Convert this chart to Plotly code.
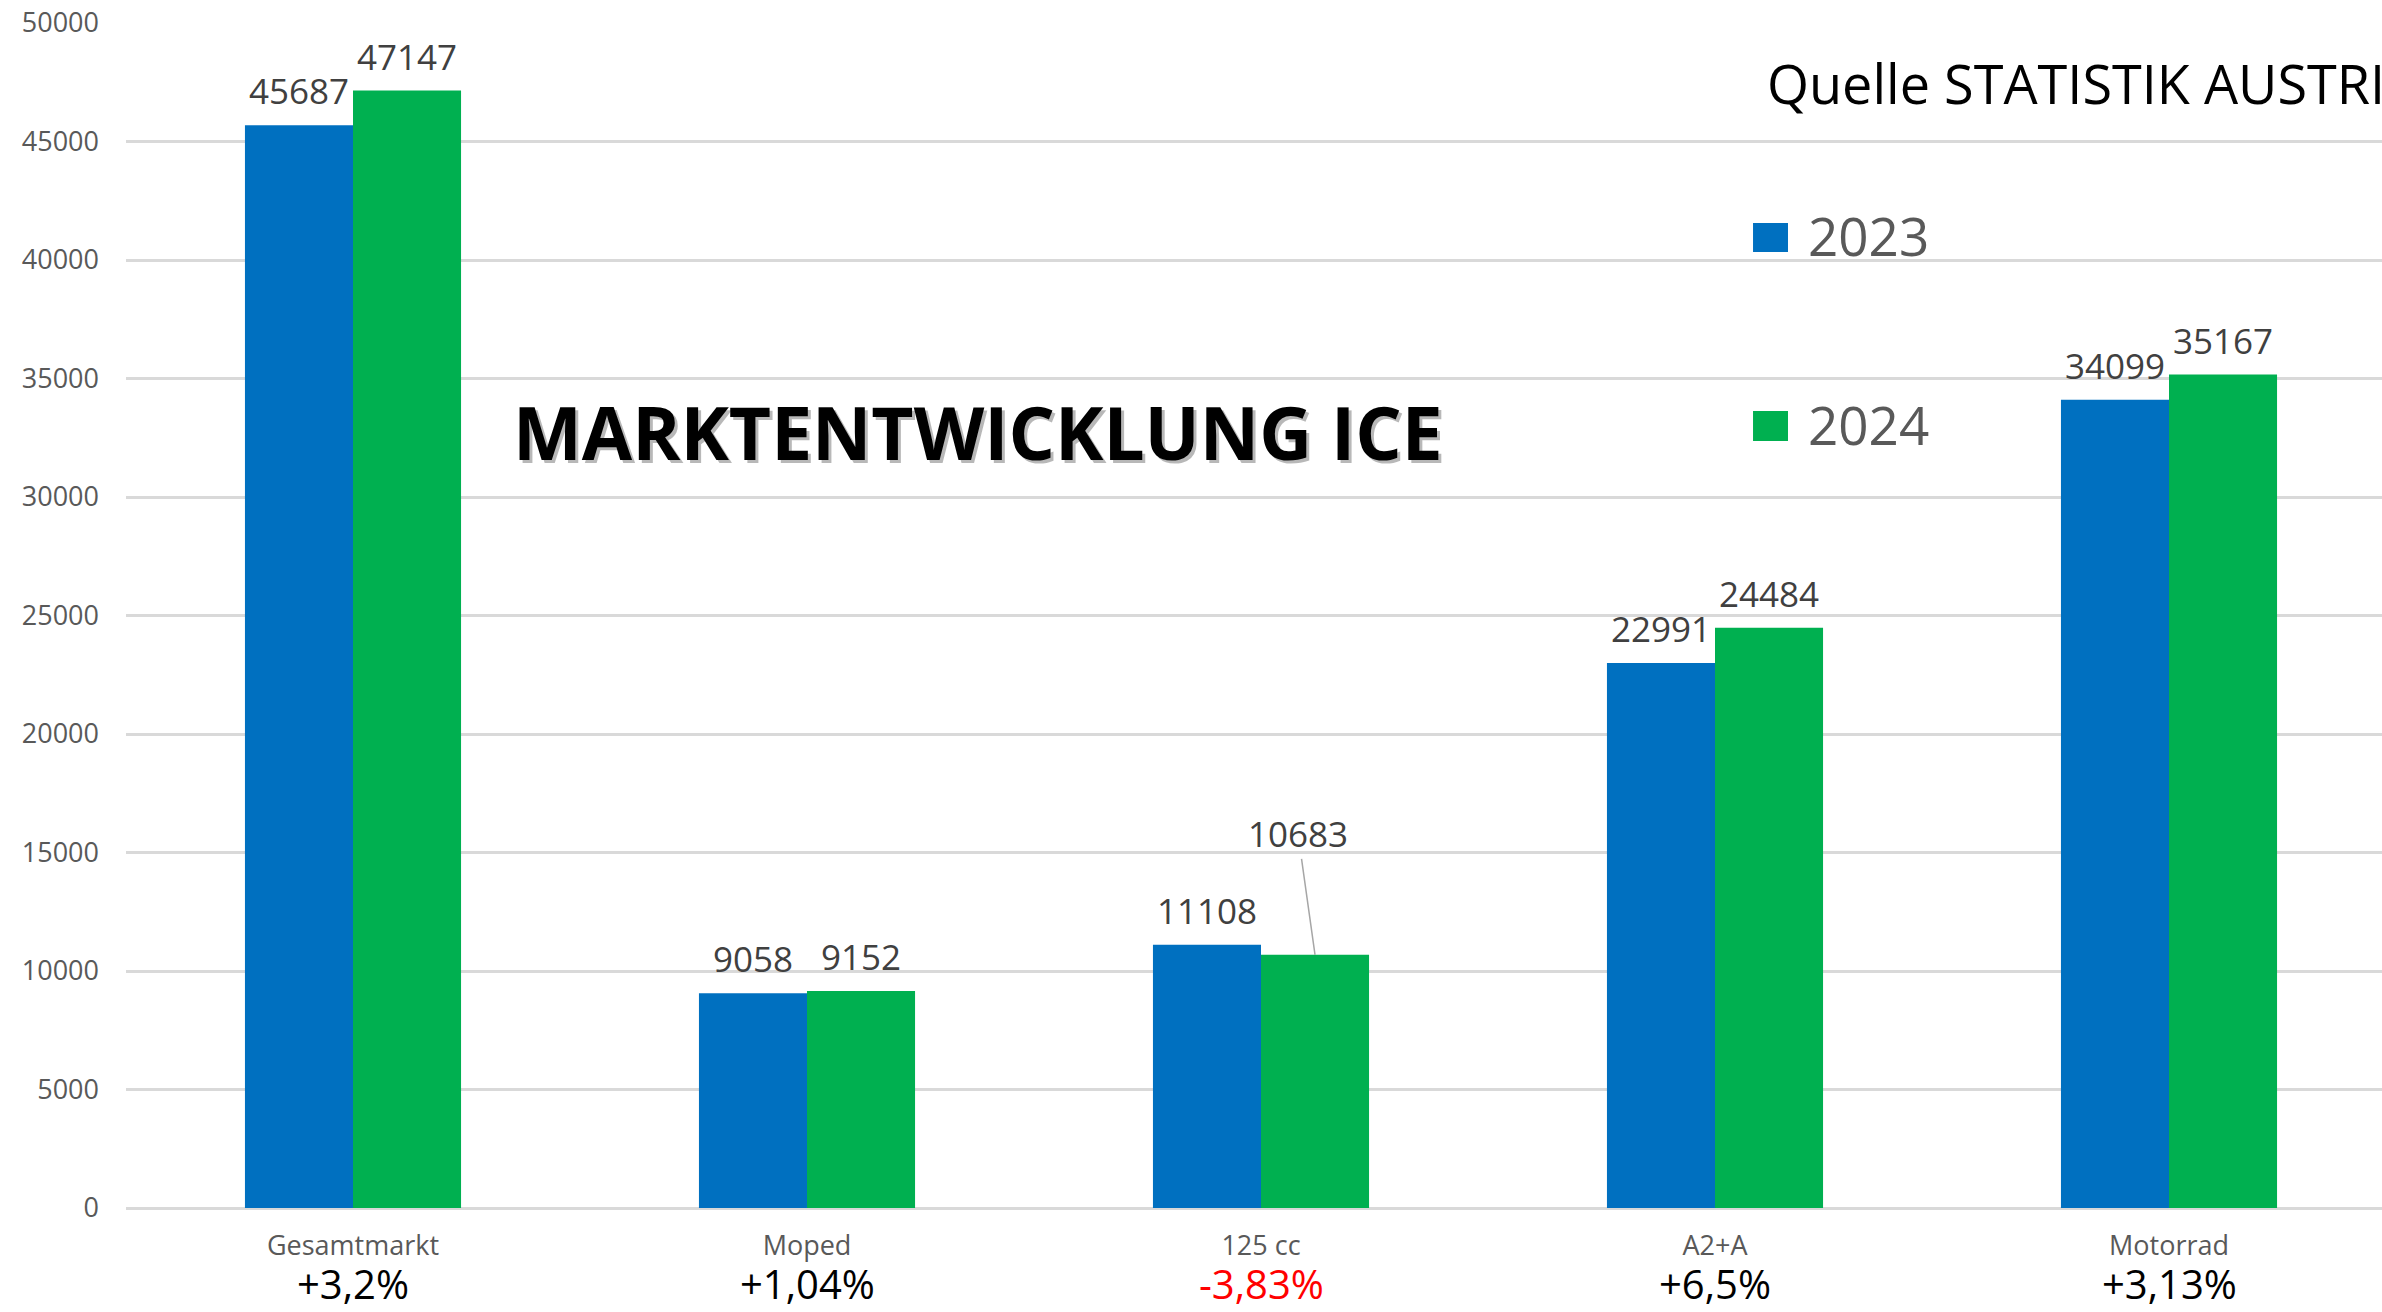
import plotly.graph_objects as go

# ---------------- data ----------------
categories = ["Gesamtmarkt", "Moped", "125 cc", "A2+A", "Motorrad"]
series_names = ["2023", "2024"]
values_2023 = [45687, 9058, 11108, 22991, 34099]
values_2024 = [47147, 9152, 10683, 24484, 35167]
changes = ["+3,2%", "+1,04%", "-3,83%", "+6,5%", "+3,13%"]
y_ticks = [0, 5000, 10000, 15000, 20000, 25000, 30000, 35000, 40000, 45000, 50000]
title_text = "MARKTENTWICKLUNG ICE"
source_text = "Quelle STATISTIK AUSTRIA"

# ---------------- styles ----------------
BLUE = "#0070C0"
GREEN = "#00B050"
GRID = "#D9D9D9"
TICK_GRAY = "#595959"
LABEL_GRAY = "#404040"
FONT = "Open Sans, Noto Sans, sans-serif"

W, H = 2382, 1312
ML, MT, MB = 126, 23, 104
plot_w = W - ML
band_px = 454.0
x_range = [-0.5, -0.5 + plot_w / band_px]
BARGAP = 0.524
bar_w = (1 - BARGAP) / 2
offsets = [-bar_w / 2, bar_w / 2]

fig = go.Figure()
for name, vals, col in [(series_names[0], values_2023, BLUE), (series_names[1], values_2024, GREEN)]:
    fig.add_trace(go.Bar(
        name=name, x=categories, y=vals, marker_color=col,
        marker_line_width=0, showlegend=False,
    ))

annotations = []

# data labels
for s, vals in enumerate([values_2023, values_2024]):
    for i, v in enumerate(vals):
        xpos = i + offsets[s]
        if s == 1 and categories[i] == "125 cc":
            annotations.append(dict(
                x=xpos, y=v, xref="x", yref="y", text=str(v),
                showarrow=True, arrowhead=0, arrowwidth=1.5, arrowcolor="#A6A6A6",
                ax=-17, ay=-121, standoff=0,
                font=dict(family=FONT, size=35, color=LABEL_GRAY),
            ))
        else:
            annotations.append(dict(
                x=xpos, y=v, xref="x", yref="y", text=str(v),
                showarrow=False, yanchor="bottom", yshift=9,
                font=dict(family=FONT, size=35, color=LABEL_GRAY),
            ))

# percentage changes under categories
for i, c in enumerate(changes):
    annotations.append(dict(
        x=i, y=-0.0640, xref="x", yref="paper", text=c, showarrow=False,
        yanchor="middle",
        font=dict(family=FONT, size=40, color="#FF0000" if c.startswith("-") else "#000000"),
    ))

# title with shadow
for col, dx, dy in [("rgba(0,0,0,0.28)", 3, -3), ("#000000", 0, 0)]:
    annotations.append(dict(
        x=0.3777, y=0.6549, xref="paper", yref="paper", text="<b>" + title_text + "</b>",
        showarrow=False, xanchor="center", yanchor="middle", xshift=dx, yshift=dy,
        font=dict(family=FONT, size=73, color=col),
    ))

# source (cut off at the right edge, as in the original)
annotations.append(dict(
    x=0.7265, y=0.9494, xref="paper", yref="paper", text=source_text,
    showarrow=False, xanchor="left", yanchor="middle",
    font=dict(family=FONT, size=54, color="#000000"),
))

# manual legend
shapes = []
legend_rows = [(series_names[0], BLUE, 0.8068, 0.8312, 0.8203),
               (series_names[1], GREEN, 0.6473, 0.6726, 0.6608)]
for name, col, y0, y1, yc in legend_rows:
    shapes.append(dict(type="rect", xref="paper", yref="paper",
                       x0=0.7212, x1=0.7367, y0=y0, y1=y1,
                       fillcolor=col, line=dict(width=0)))
    annotations.append(dict(
        x=0.7447, y=yc, xref="paper", yref="paper", text=name, showarrow=False,
        xanchor="left", yanchor="middle",
        font=dict(family=FONT, size=53, color=TICK_GRAY),
    ))

fig.update_layout(
    width=W, height=H,
    margin=dict(l=ML, r=0, t=MT, b=MB, pad=0),
    paper_bgcolor="white", plot_bgcolor="white",
    barmode="group", bargap=BARGAP, bargroupgap=0,
    showlegend=False,
    annotations=annotations, shapes=shapes,
    font=dict(family=FONT),
)
fig.update_xaxes(
    type="category", range=x_range, showgrid=False, showline=False, zeroline=False,
    ticks="", ticklabelstandoff=19,
    tickfont=dict(family=FONT, size=27, color=TICK_GRAY),
)
fig.update_yaxes(
    range=[0, 50000], tickvals=y_ticks, ticktext=[str(t) for t in y_ticks],
    showgrid=True, gridcolor=GRID, gridwidth=2.5,
    zeroline=True, zerolinecolor=GRID, zerolinewidth=3,
    showline=False, ticks="", ticklabelstandoff=26,
    tickfont=dict(family=FONT, size=27, color=TICK_GRAY),
)

fig.write_html("out.html", config={"displayModeBar": False},
               post_script="document.body.style.margin='0';document.body.style.overflow='hidden';")
